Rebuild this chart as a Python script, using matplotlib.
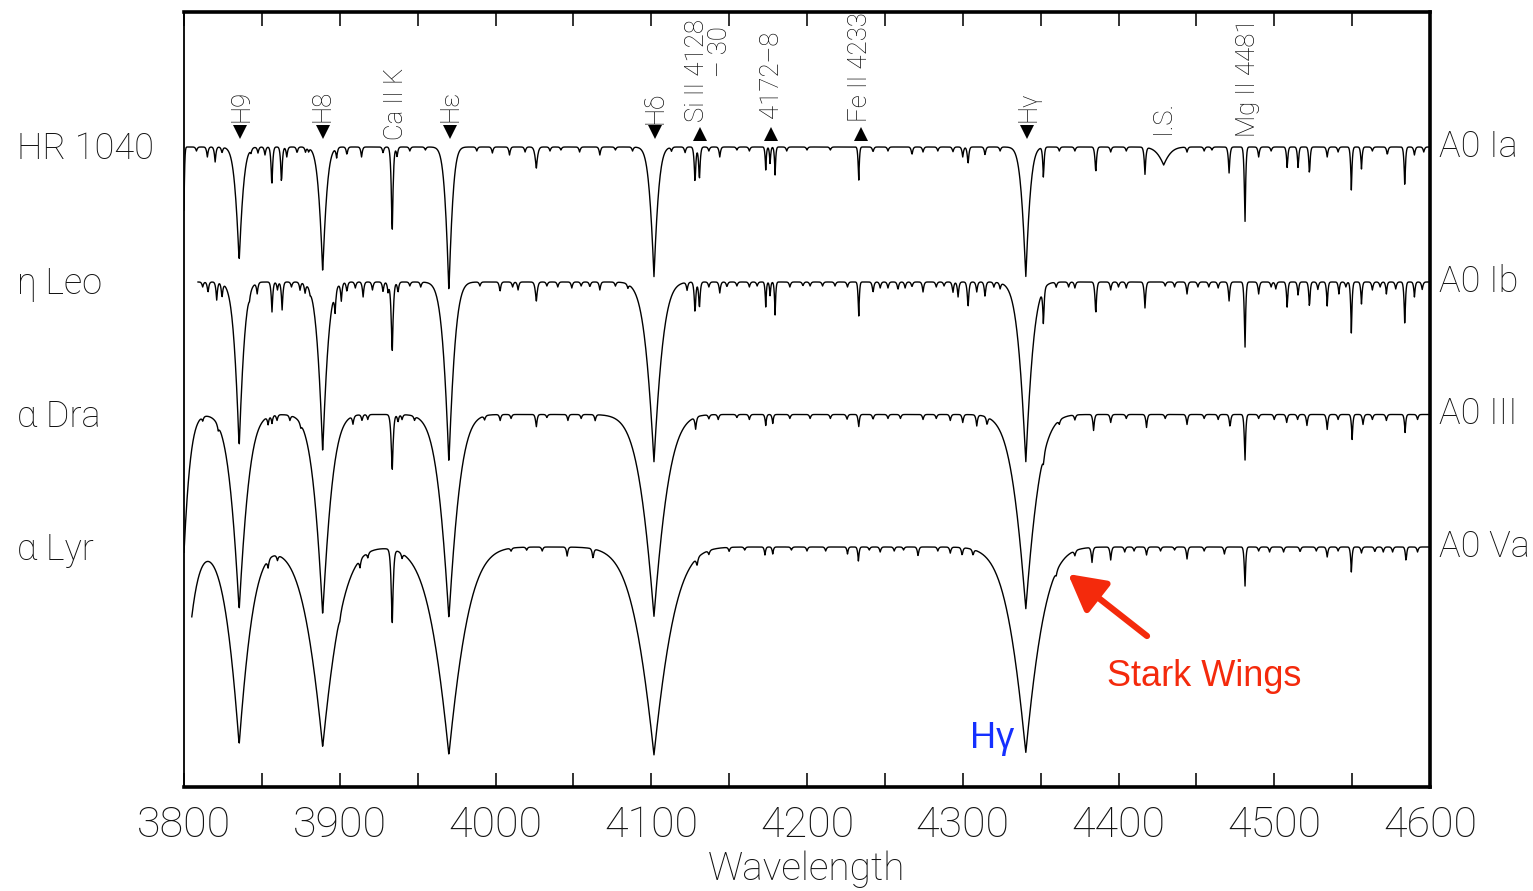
import numpy as np
import matplotlib.pyplot as plt
from matplotlib.ticker import MultipleLocator
from matplotlib.transforms import blended_transform_factory

plt.rcParams['font.family'] = ['Roboto', 'DejaVu Sans']

# stars, MK classes, continuum level of each stacked trace and first wavelength (A)
names = ['HR 1040', 'η Leo', 'α Dra', 'α Lyr']
classes = ['A0 Ia', 'A0 Ib', 'A0 III', 'A0 Va']
levels = [2.56, 2.02, 1.49, 0.96]
starts = [3800.0, 3809.0, 3800.0, 3805.0]

# line lists: centre (A), depth (fraction of continuum), width (A)
hr1040_wl = [3800.0, 3815.0, 3820.0, 3824.4, 3835.4, 3847.5, 3852.0, 3856.4, 3862.6, 3866.0,
             3872.6, 3889.05, 3898.0, 3904.6, 3914.0, 3927.8, 3933.66, 3936.8, 3970.07, 3998.0,
             4009.0, 4019.0, 4026.2, 4054.0, 4067.0, 4101.74, 4121.7, 4128.1, 4130.9, 4144.0,
             4163.0, 4173.5, 4176.3, 4179.5, 4187.0, 4233.2, 4242.4, 4267.4, 4274.5, 4293.7,
             4300.0, 4303.4, 4314.3, 4324.0, 4340.46, 4351.8, 4385.4, 4417.0, 4429.0, 4444.0,
             4471.0, 4481.2, 4490.0, 4508.3, 4515.3, 4522.6, 4534.0, 4549.5, 4556.0, 4572.6,
             4583.8, 4590.0]
hr1040_depth = [0.252, 0.04, 0.06, 0.024, 0.46, 0.024, 0.032, 0.164, 0.152, 0.04,
                0.024, 0.50, 0.04, 0.032, 0.04, 0.024, 0.364, 0.04, 0.58, 0.024,
                0.032, 0.02, 0.088, 0.02, 0.032, 0.52, 0.024, 0.152, 0.14, 0.04,
                0.016, 0.092, 0.072, 0.112, 0.016, 0.144, 0.02, 0.032, 0.02, 0.02,
                0.04, 0.072, 0.032, 0.016, 0.524, 0.128, 0.108, 0.108, 0.072, 0.02,
                0.104, 0.32, 0.04, 0.088, 0.088, 0.116, 0.04, 0.172, 0.088, 0.032,
                0.16, 0.032]
hr1040_width = [0.5, 0.8, 0.8, 0.8, 3.2, 0.8, 0.8, 0.8, 0.8, 0.8,
                0.8, 3.2, 0.8, 0.8, 0.8, 0.8, 0.9, 0.8, 3.0, 0.8,
                0.8, 0.8, 1.2, 0.8, 0.8, 3.4, 0.8, 0.8, 0.8, 0.8,
                0.8, 0.6, 0.6, 0.6, 0.8, 0.6, 0.8, 0.8, 0.8, 0.8,
                0.8, 0.8, 0.8, 0.8, 3.4, 0.7, 0.8, 0.8, 5.0, 0.8,
                0.8, 0.7, 0.8, 0.7, 0.7, 0.7, 0.8, 0.7, 0.7, 0.8,
                0.7, 0.8]
hr1040_weak_wl = [3808, 3843, 3878, 3880, 3945, 3955, 3988, 4035, 4042, 4077, 4088, 4113, 4137,
                  4155, 4200, 4215, 4252, 4284, 4362, 4372, 4395, 4405, 4455, 4460, 4498, 4541,
                  4563, 4596]
hr1040_weak_depth = [0.016, 0.016, 0.02, 0.016, 0.016, 0.012, 0.016, 0.016, 0.012, 0.012, 0.016,
                     0.016, 0.016, 0.012, 0.012, 0.012, 0.016, 0.016, 0.016, 0.016, 0.02, 0.016,
                     0.016, 0.012, 0.016, 0.02, 0.016, 0.02]

etaleo_wl = [3815.4, 3821.0, 3824.4, 3835.4, 3847.0, 3856.5, 3860.0, 3863.0, 3874.5, 3877.7,
             3889.05, 3897.0, 3901.0, 3904.6, 3915.0, 3921.0, 3927.8, 3931.0, 3933.66, 3937.4,
             3970.07, 4002.9, 4011.0, 4014.5, 4026.2, 4049.0, 4060.6, 4067.0, 4101.74, 4123.0,
             4128.1, 4130.9, 4144.0, 4148.6, 4163.0, 4173.5, 4176.3, 4179.5, 4189.0, 4197.4,
             4210.0, 4233.2, 4242.4, 4247.0, 4258.4, 4263.0, 4267.4, 4274.5, 4293.7, 4297.0,
             4303.4, 4309.0, 4314.3, 4324.0, 4340.46, 4351.8, 4385.4, 4417.0, 4444.0, 4471.0,
             4481.2, 4490.0, 4508.3, 4515.3, 4522.6, 4534.0, 4541.5, 4549.5, 4556.0, 4572.0,
             4583.8, 4590.0]
etaleo_depth = [0.044, 0.072, 0.06, 0.664, 0.044, 0.12, 0.032, 0.112, 0.032, 0.04,
                0.68, 0.084, 0.072, 0.04, 0.06, 0.032, 0.04, 0.04, 0.30, 0.044,
                0.724, 0.04, 0.02, 0.032, 0.08, 0.024, 0.02, 0.032, 0.72, 0.032,
                0.132, 0.112, 0.044, 0.02, 0.02, 0.10, 0.06, 0.132, 0.02, 0.016,
                0.016, 0.148, 0.044, 0.024, 0.032, 0.024, 0.02, 0.04, 0.044, 0.06,
                0.108, 0.04, 0.06, 0.024, 0.724, 0.144, 0.136, 0.104, 0.048, 0.076,
                0.28, 0.048, 0.108, 0.056, 0.108, 0.096, 0.048, 0.204, 0.088, 0.048,
                0.176, 0.06]
etaleo_width = [0.8, 0.8, 0.8, 3.9, 0.8, 0.8, 0.8, 0.8, 0.8, 0.8,
                4.2, 0.8, 0.8, 0.8, 0.8, 0.8, 0.8, 0.8, 1.0, 0.8,
                4.5, 0.8, 0.8, 0.8, 1.0, 0.8, 0.8, 0.8, 6.4, 0.8,
                0.8, 0.8, 0.8, 0.8, 0.8, 0.6, 0.6, 0.6, 0.8, 0.8,
                0.8, 0.6, 0.8, 0.8, 0.8, 0.8, 0.8, 0.8, 0.8, 0.8,
                0.8, 0.8, 0.8, 0.8, 5.5, 0.7, 0.8, 0.8, 0.8, 0.8,
                0.7, 0.8, 0.7, 0.7, 0.7, 0.7, 0.7, 0.7, 0.7, 0.7,
                0.7, 0.7]
etaleo_weak_wl = [3812, 3842, 3869, 3881, 3910, 3945, 3952, 3990, 4033, 4040, 4055, 4077, 4085,
                  4137, 4155, 4168, 4202, 4218, 4226, 4252, 4283, 4288, 4320, 4360, 4368, 4372,
                  4395, 4400, 4405, 4430, 4436, 4451, 4458, 4464, 4498, 4501, 4528, 4546, 4563,
                  4568, 4578, 4595]
etaleo_weak_depth = [0.02, 0.02, 0.02, 0.016, 0.024, 0.016, 0.02, 0.016, 0.016, 0.02, 0.016,
                     0.016, 0.016, 0.02, 0.016, 0.016, 0.016, 0.016, 0.02, 0.024, 0.02, 0.016,
                     0.02, 0.02, 0.02, 0.024, 0.032, 0.02, 0.024, 0.016, 0.02, 0.02, 0.02, 0.024,
                     0.02, 0.028, 0.03, 0.02, 0.032, 0.02, 0.028, 0.03]

alphadra_wl = [3797.9, 3822.0, 3835.4, 3854.0, 3856.5, 3859.7, 3868.0, 3889.05, 3908.5, 3914.3,
               3933.66, 3937.4, 3940.0, 3970.07, 4003.0, 4026.2, 4046.5, 4064.0, 4101.74, 4128.5,
               4143.0, 4163.0, 4173.5, 4178.0, 4202.0, 4225.7, 4233.2, 4242.4, 4274.5, 4292.0,
               4300.0, 4309.0, 4315.6, 4340.46, 4351.8, 4384.0, 4395.0, 4418.0, 4444.0, 4471.6,
               4481.2, 4508.0, 4521.0, 4534.0, 4550.0, 4557.0, 4584.0]
alphadra_depth = [0.86, 0.02, 0.784, 0.032, 0.032, 0.024, 0.02, 0.80, 0.032, 0.024,
                  0.24, 0.032, 0.02, 0.816, 0.024, 0.052, 0.024, 0.024, 0.808, 0.048,
                  0.02, 0.02, 0.044, 0.036, 0.016, 0.02, 0.052, 0.02, 0.02, 0.024,
                  0.032, 0.044, 0.032, 0.78, 0.032, 0.064, 0.032, 0.052, 0.04, 0.052,
                  0.196, 0.032, 0.044, 0.06, 0.10, 0.04, 0.072]
alphadra_width = [5.2, 0.8, 7.0, 0.8, 0.8, 0.8, 0.8, 7.0, 0.8, 0.8,
                  1.0, 0.8, 0.8, 8.0, 0.8, 0.8, 0.8, 0.8, 10.3, 0.8,
                  0.8, 0.8, 0.7, 0.7, 0.8, 0.8, 0.7, 0.8, 0.8, 0.8,
                  0.8, 0.8, 0.8, 9.6, 0.8, 0.8, 0.8, 0.8, 0.8, 0.8,
                  0.7, 0.8, 0.8, 0.8, 0.7, 0.8, 0.7]
alphadra_weak_wl = [3812, 3875, 3918, 3948, 3993, 4010, 4033, 4055, 4137, 4155, 4189, 4215, 4252,
                    4260, 4283, 4362, 4372, 4405, 4430, 4455, 4464, 4490, 4500, 4515, 4541, 4563,
                    4572, 4592]
alphadra_weak_depth = [0.016, 0.016, 0.02, 0.016, 0.016, 0.016, 0.012, 0.016, 0.016, 0.012,
                       0.016, 0.016, 0.016, 0.016, 0.016, 0.016, 0.02, 0.016, 0.016, 0.016,
                       0.02, 0.016, 0.02, 0.02, 0.02, 0.02, 0.024, 0.02]

alphalyr_wl = [3797.9, 3835.4, 3854.0, 3860.0, 3889.05, 3913.0, 3918.0, 3933.66, 3940.0, 3970.07,
               4046.0, 4062.6, 4101.74, 4129.4, 4173.0, 4178.0, 4200.0, 4226.0, 4233.0, 4247.0,
               4271.3, 4292.0, 4299.6, 4306.6, 4340.46, 4383.0, 4395.0, 4404.0, 4418.0, 4444.0,
               4468.0, 4481.2, 4497.0, 4506.0, 4516.6, 4534.0, 4549.5, 4556.0, 4564.6, 4576.0,
               4584.6]
alphalyr_depth = [0.86, 0.792, 0.032, 0.02, 0.80, 0.032, 0.02, 0.32, 0.02, 0.832,
                  0.036, 0.04, 0.832, 0.032, 0.032, 0.028, 0.016, 0.028, 0.056, 0.02,
                  0.036, 0.024, 0.032, 0.024, 0.824, 0.06, 0.052, 0.02, 0.032, 0.048,
                  0.028, 0.168, 0.02, 0.02, 0.02, 0.04, 0.10, 0.024, 0.02, 0.02,
                  0.06]
alphalyr_width = [7.7, 9.6, 0.8, 0.8, 12.8, 0.8, 0.8, 1.0, 0.8, 13.5,
                  0.8, 0.8, 14.1, 0.8, 0.7, 0.7, 0.8, 0.7, 0.7, 0.8,
                  0.8, 0.8, 0.8, 0.8, 12.8, 0.8, 0.8, 0.8, 0.8, 0.8,
                  0.8, 0.7, 0.8, 0.8, 0.8, 0.8, 0.7, 0.8, 0.8, 0.8,
                  0.7]
alphalyr_weak_wl = [3900, 4010, 4020, 4030, 4137, 4150, 4160, 4190, 4212, 4240, 4256, 4262, 4284,
                    4360, 4372, 4410, 4427, 4436, 4455, 4490, 4527, 4541, 4570, 4592]
alphalyr_weak_depth = [0.016, 0.012, 0.012, 0.016, 0.016, 0.016, 0.012, 0.012, 0.016, 0.012,
                       0.016, 0.012, 0.016, 0.016, 0.02, 0.016, 0.016, 0.012, 0.016, 0.016,
                       0.016, 0.016, 0.02, 0.02]
weak_width = 0.8

line_lists = [(hr1040_wl, hr1040_depth, hr1040_width, hr1040_weak_wl, hr1040_weak_depth),
              (etaleo_wl, etaleo_depth, etaleo_width, etaleo_weak_wl, etaleo_weak_depth),
              (alphadra_wl, alphadra_depth, alphadra_width, alphadra_weak_wl, alphadra_weak_depth),
              (alphalyr_wl, alphalyr_depth, alphalyr_width, alphalyr_weak_wl, alphalyr_weak_depth)]

# identified features along the top
id_labels = ['H9', 'H8', 'Ca II K', 'Hε', 'Hδ', 'Si II 4128', '4172–8', 'Fe II 4233', 'Hγ', 'I.S.', 'Mg II 4481']
id_wl = [3836.6, 3889.2, 3936.1, 3971.4, 4103.0, 4129.4, 4176.9, 4234.0, 4341.9, 4428.6, 4483.1]
id_base = [2.66, 2.66, 2.59, 2.66, 2.65, 2.66, 2.675, 2.66, 2.66, 2.61, 2.60]
id_marker = ['v', 'v', '', 'v', 'v', '^', '^', '^', 'v', '', '']
marker_wl = [3836.0, 3889.0, 0, 3970.5, 4102.5, 4131.0, 4177.0, 4234.5, 4341.0, 0, 0]

TEXT = '#111111'


def absorption(wl, centre, depth, width):
    dx = np.abs(wl - centre)
    return depth * np.exp(-dx / width - (dx / (2.0 * width)) ** 2)


fig = plt.figure(figsize=(15.33, 8.91), dpi=100)
ax = fig.add_axes([184 / 1533, 1 - 787 / 891, 1246 / 1533, 775 / 891])

for level, start, (wls, depths, widths, weak_wl, weak_d) in zip(levels, starts, line_lists):
    wl = np.arange(start, 4600.01, 0.25)
    flux = np.full_like(wl, level)
    for c, d, w in zip(wls, depths, widths):
        flux -= absorption(wl, c, d, w)
    for c, d in zip(weak_wl, weak_d):
        flux -= absorption(wl, c, d, weak_width)
    ax.plot(wl, flux, color='black', lw=1.0)

ax.set_xlim(3800, 4600)
ax.set_ylim(0, 3.1)
ax.set_yticks([])
ax.xaxis.set_major_locator(MultipleLocator(100))
ax.xaxis.set_minor_locator(MultipleLocator(50))
ax.tick_params(axis='x', which='both', direction='in', length=10, width=1.3,
               top=True, bottom=True, color='#222222')
ax.tick_params(axis='x', which='major', labelsize=31, pad=13, labelcolor=TEXT)
for lbl in ax.get_xticklabels():
    lbl.set_fontweight('light')
for side in ['top', 'bottom', 'right']:
    ax.spines[side].set_linewidth(2.6)
ax.spines['left'].set_linewidth(1.3)
ax.set_xlabel('Wavelength', fontsize=28, fontweight='light', color=TEXT, labelpad=3)

# line identifications
for text, x, y, m, mx in zip(id_labels, id_wl, id_base, id_marker, marker_wl):
    ax.text(x, y, text, rotation=90, ha='center', va='bottom', fontsize=18.5,
            fontweight='light', color=TEXT)
    if m:
        my = 2.62 if m == 'v' else 2.612
        ax.plot([mx], [my], marker=m, color='black', ms=10, mew=0)
ax.text(4144.1, 2.84, '– 30', rotation=90, ha='center', va='bottom', fontsize=18.5,
        fontweight='light', color=TEXT)

# star names on the left, spectral classes on the right
trans = blended_transform_factory(ax.transAxes, ax.transData)
for name, cls, level in zip(names, classes, levels):
    ax.text(-0.134, level - 0.01, name, transform=trans, ha='left', va='center',
            fontsize=26, fontweight='light', color=TEXT)
    ax.text(1.007, level, cls, transform=trans, ha='left', va='center',
            fontsize=26, fontweight='light', color=TEXT, clip_on=False)

# annotations
ax.annotate('', xy=(4367.6, 0.852), xytext=(4418.3, 0.604),
            arrowprops=dict(arrowstyle='-|>,head_length=1.1,head_width=0.6',
                            lw=4.5, color='#f42a0c', shrinkA=0, shrinkB=0,
                            mutation_scale=20))
ax.text(4392.6, 0.404, 'Stark Wings', fontsize=26, color='#f42a0c',
        family=['Liberation Sans', 'DejaVu Sans'], ha='left', va='baseline')
ax.text(4304.7, 0.156, 'Hγ', fontsize=26, color='#1530ff',
        family=['Liberation Sans', 'DejaVu Sans'], ha='left', va='baseline')

fig.savefig('out.png', dpi=100)
